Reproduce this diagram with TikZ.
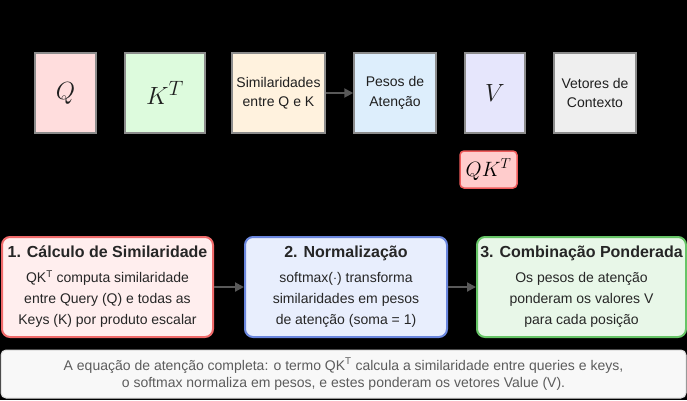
\documentclass[tikz,border=0pt]{standalone}
\usepackage{fontspec}
\setmainfont{Liberation Sans}
\usetikzlibrary{arrows.meta}

\definecolor{q fill}{HTML}{FFDDDD}
\definecolor{k fill}{HTML}{DDFBDD}
\definecolor{sim fill}{HTML}{FFF2DE}
\definecolor{peso fill}{HTML}{DDEEFC}
\definecolor{v fill}{HTML}{E6E6FC}
\definecolor{ctx fill}{HTML}{EFEFEF}
\definecolor{qk fill}{HTML}{FFCCCC}
\definecolor{qk edge}{HTML}{EE5A5A}
\definecolor{one fill}{HTML}{FFEEEE}
\definecolor{one edge}{HTML}{F06A6A}
\definecolor{two fill}{HTML}{E8EEFD}
\definecolor{two edge}{HTML}{6A86DD}
\definecolor{three fill}{HTML}{E8F7E8}
\definecolor{three edge}{HTML}{66C466}
\definecolor{note fill}{HTML}{F8F8F8}
\definecolor{note edge}{HTML}{DADADA}
\colorlet{box edge}{black!45}
\colorlet{link color}{black!65}
\tikzset{block/.style={draw=box edge, line width=1.5pt, inner sep=0pt, minimum height=80pt,
        align=center, text=black!88, font=\fontsize{14}{19.5}\selectfont},
    symbol/.style={block, font=\fontsize{28}{30}\selectfont},
    stage/.style={rounded corners=8pt, line width=2pt, inner sep=0pt, minimum height=100pt,
        align=center, text=black!85, font=\fontsize{14}{21}\selectfont},
    link/.style={-{Triangle[length=9pt,width=9pt]}, line width=2pt, draw=link color}}
\newcommand{\stagetitle}[1]{{\fontsize{16}{20}\selectfont\bfseries #1}\\[4pt]}

\begin{document}
\begin{tikzpicture}[x=1pt, y=-1pt]

    \fill[black] (0,0) rectangle (687,400);
    \useasboundingbox (0,0) rectangle (687,400);

    % top row
    \node[symbol, fill=q fill, minimum width=61pt] (q) at (65.5,93) {$Q$};
    \node[symbol, fill=k fill, minimum width=80pt] (k) at (165,93) {$K^T$};
    \node[block, fill=sim fill, minimum width=93pt] (sim) at (278.5,93) {Similaridades\\entre Q e K};
    \node[block, fill=peso fill, minimum width=82pt] (pesos) at (395,93) {Pesos de\\Atenção};
    \node[symbol, fill=v fill, minimum width=60pt] (v) at (495,93) {$V$};
    \node[block, fill=ctx fill, minimum width=82pt] (ctx) at (595,93) {Vetores de\\Contexto};
    \node[draw=qk edge, fill=qk fill, line width=1.5pt, rounded corners=4pt, inner sep=0pt,
        minimum width=57pt, minimum height=37pt, font=\fontsize{20}{24}\selectfont] (qk) at (488.5,169.5) {$QK^T$};

    \draw[link] (sim) -- (pesos);

    % stages
    \node[stage, draw=one edge, fill=one fill, minimum width=211pt] (calc) at (107.5,287)
        {\stagetitle{1. Cálculo de Similaridade}QK\textsuperscript{T} computa similaridade\\entre Query (Q) e todas as\\Keys (K) por produto escalar};
    \node[stage, draw=two edge, fill=two fill, minimum width=202pt] (norm) at (346,287)
        {\stagetitle{2. Normalização}softmax($\cdot$) transforma\\similaridades em pesos\\de atenção (soma = 1)};
    \node[stage, draw=three edge, fill=three fill, minimum width=209pt] (comb) at (581.5,287)
        {\stagetitle{3. Combinação Ponderada}Os pesos de atenção\\ponderam os valores V\\para cada posição};

    \draw[link] (calc) -- (norm);
    \draw[link] (norm) -- (comb);

    % note
    \node[draw=note edge, fill=note fill, line width=1pt, rounded corners=5pt, inner sep=0pt,
        minimum width=685pt, minimum height=48pt, align=center, text=black!64,
        font=\fontsize{14}{17}\selectfont] (note) at (343.5,374)
        {A equação de atenção completa: o termo QK\textsuperscript{T} calcula a similaridade entre queries e keys,\\o softmax normaliza em pesos, e estes ponderam os vetores Value (V).};

\end{tikzpicture}
\end{document}
